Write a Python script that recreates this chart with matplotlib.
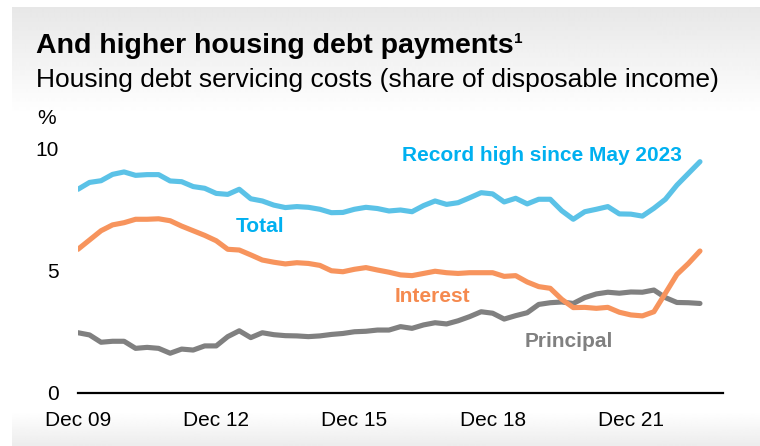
import numpy as np
import matplotlib
matplotlib.use("Agg")
import matplotlib.pyplot as plt

# quarterly data, Dec 09 to Jun 23
total = [8.35, 8.63, 8.70, 8.96, 9.06, 8.92, 8.95, 8.95, 8.69, 8.66, 8.46, 8.39, 8.18, 8.14, 8.35,
         7.96, 7.87, 7.70, 7.60, 7.64, 7.61, 7.53, 7.39, 7.40, 7.53, 7.61, 7.56,
         7.46, 7.50, 7.43, 7.68, 7.87, 7.73, 7.80, 8.00, 8.21, 8.16, 7.83, 7.98, 7.75, 7.94,
         7.94, 7.47, 7.12, 7.43, 7.53, 7.64, 7.34, 7.33, 7.25, 7.57, 7.94, 8.52, 9.00, 9.48]
interest = [5.89, 6.27, 6.65, 6.89, 6.98, 7.12, 7.12, 7.14, 7.06, 6.84, 6.65, 6.46, 6.24, 5.89, 5.86,
            5.66, 5.45, 5.36, 5.29, 5.34, 5.31, 5.23, 5.01, 4.97, 5.07, 5.14, 5.04,
            4.95, 4.84, 4.81, 4.90, 4.99, 4.93, 4.90, 4.93, 4.93, 4.93, 4.78, 4.81, 4.55, 4.36,
            4.29, 3.84, 3.50, 3.51, 3.47, 3.51, 3.31, 3.20, 3.16, 3.33, 4.09, 4.86, 5.31, 5.82]
principal = [2.47, 2.38, 2.08, 2.12, 2.12, 1.83, 1.87, 1.83, 1.63, 1.80, 1.76, 1.93, 1.93, 2.31, 2.55,
             2.27, 2.47, 2.39, 2.35, 2.34, 2.31, 2.34, 2.40, 2.44, 2.51, 2.53, 2.58,
             2.58, 2.72, 2.65, 2.79, 2.88, 2.83, 2.96, 3.13, 3.33, 3.27, 3.03, 3.17, 3.29, 3.63,
             3.70, 3.73, 3.67, 3.91, 4.06, 4.13, 4.09, 4.14, 4.13, 4.22, 3.91, 3.71, 3.70, 3.67]
xtick_pos = [0, 12, 24, 36, 48]
xtick_labels = ["Dec 09", "Dec 12", "Dec 15", "Dec 18", "Dec 21"]
ytick_pos = [0, 5, 10]

plt.rcParams["font.family"] = ["Liberation Sans", "DejaVu Sans"]

W, H = 760, 446
fig = plt.figure(figsize=(W / 100, H / 100), dpi=100, facecolor="white")

# grey gradient panel behind everything
bg = fig.add_axes([12 / W, 0, 1 - 12 / W, (H - 7) / H], zorder=-10)
rows = np.arange(7, H)
shade = np.ones(len(rows))
top = rows < 115
shade[top] = 0.905 + 0.095 * (rows[top] - 7) / 108
bot = rows > 412
shade[bot] = 1 - 0.075 * (rows[bot] - 412) / (H - 412)
bg.imshow(np.repeat(shade[:, None], 2, axis=1), cmap="gray", vmin=0, vmax=1,
          aspect="auto", extent=[0, 1, 0, 1], interpolation="bilinear")
bg.axis("off")

ax = fig.add_axes([78 / W, 53 / H, 645 / W, (393 - 124.6) / H])
ax.set_facecolor("none")
x = np.arange(len(total))
blue, orange, grey = "#5bc2e7", "#f7945d", "#808080"
ax.plot(x, principal, color=grey, lw=3.7, solid_capstyle="round", solid_joinstyle="round")
ax.plot(x, interest, color=orange, lw=3.7, solid_capstyle="round", solid_joinstyle="round")
ax.plot(x, total, color=blue, lw=3.7, solid_capstyle="round", solid_joinstyle="round")

ax.set_xlim(0, 56)
ax.set_ylim(0, 11)
for s in ["top", "right", "left"]:
    ax.spines[s].set_visible(False)
ax.spines["bottom"].set_linewidth(1.6)
ax.spines["bottom"].set_color("black")
ax.set_xticks(xtick_pos)
ax.set_xticklabels(xtick_labels)
ax.set_yticks(ytick_pos)
ax.tick_params(axis="both", length=0, labelsize=15, colors="black")
ax.tick_params(axis="x", pad=13)
ax.tick_params(axis="y", pad=14)

# series labels
ax.text(15.8, 6.84, "Total", color="#00b0f0", fontsize=15, fontweight="bold", ha="center", va="center")
ax.text(40.3, 9.75, "Record high since May 2023", color="#00b0f0", fontsize=15, fontweight="bold",
        ha="center", va="center")
ax.text(30.8, 3.95, "Interest", color="#f58a4f", fontsize=15, fontweight="bold", ha="center", va="center")
ax.text(42.6, 2.10, "Principal", color=grey, fontsize=15, fontweight="bold", ha="center", va="center")

# titles
title = fig.text(36 / W, 1 - 46 / H, "And higher housing debt payments", fontsize=20.5, fontweight="bold",
                 ha="left", va="center")
fig.text(36 / W, 1 - 80 / H, "Housing debt servicing costs (share of disposable income)", fontsize=19,
         ha="left", va="center")
fig.canvas.draw()
bb = title.get_window_extent()
fig.text(bb.x1 / W + 0.001, 1 - 39 / H, "1", fontsize=11, fontweight="bold", ha="left", va="center")
fig.text(47 / W, 1 - 118 / H, "%", fontsize=15, ha="center", va="center")

fig.savefig("out.png", dpi=100, facecolor="white")
